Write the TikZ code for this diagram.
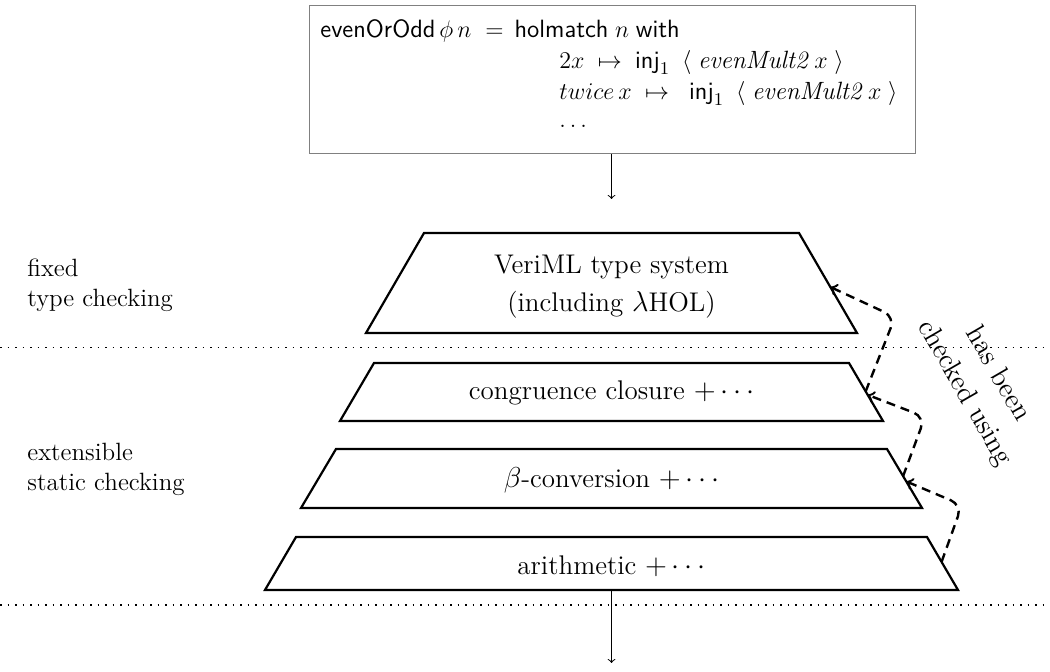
\documentclass[tikz,border=0pt]{standalone}
\usepackage{fontspec}
\usetikzlibrary{calc}
\begin{document}
\begin{tikzpicture}[x=0.5pt,y=-0.5pt,
  layer/.style={draw, line width=1.1pt, line join=miter},
  lbl/.style={font=\fontsize{13.5}{19}\selectfont, align=center, inner sep=0pt},
  side/.style={font=\fontsize{12.5}{15}\selectfont, align=left, inner sep=0pt, anchor=west},
  codeln/.style={font=\fontsize{12.5}{15}\selectfont, inner sep=0pt, anchor=base west},
  flow/.style={->, line width=0.5pt},
  sep/.style={line width=0.9pt, dash pattern=on 0.9pt off 2.85pt},
  check/.style={->, line width=1.2pt, dash pattern=on 4.5pt off 3pt, rounded corners=6pt},
]
\useasboundingbox (0,0) rectangle (1050,672);

% program being checked
\node[draw=black!50, line width=0.6pt, minimum width=303pt, minimum height=74pt,
      anchor=north west, inner sep=0pt] (code) at (309,5) {};
\node[codeln] (c1) at (320,37.5)
  {$\mathsf{evenOrOdd}\,\phi\,n\hspace{7pt}{=}\hspace{5.5pt}\mathsf{holmatch}\;n\;\mathsf{with}$};
\node[codeln] (c2) at (559,68.5)
  {$2x\;\mapsto\;\mathsf{inj}_1\hspace{6pt}\langle\;\textit{evenMult2}\;x\;\rangle$};
\node[codeln] (c3) at (559,99.5)
  {$twice\,x\;\mapsto\;\;\mathsf{inj}_1\hspace{6pt}\langle\;\textit{evenMult2}\;x\;\rangle$};
\node[codeln] (c4) at (559,128) {$\ldots$};

% layer corners
\coordinate (v-tl) at (424,233); \coordinate (v-tr) at (799,233);
\coordinate (v-br) at (857,333); \coordinate (v-bl) at (366,333);
\coordinate (c-tl) at (374,363); \coordinate (c-tr) at (849,363);
\coordinate (c-br) at (883,421); \coordinate (c-bl) at (340,421);
\coordinate (b-tl) at (336,449); \coordinate (b-tr) at (887,449);
\coordinate (b-br) at (922,508); \coordinate (b-bl) at (301,508);
\coordinate (a-tl) at (296,537); \coordinate (a-tr) at (927,537);
\coordinate (a-br) at (958,590); \coordinate (a-bl) at (265,590);

\draw[layer] (v-tl) -- (v-tr) -- (v-br) -- (v-bl) -- cycle;
\draw[layer] (c-tl) -- (c-tr) -- (c-br) -- (c-bl) -- cycle;
\draw[layer] (b-tl) -- (b-tr) -- (b-br) -- (b-bl) -- cycle;
\draw[layer] (a-tl) -- (a-tr) -- (a-br) -- (a-bl) -- cycle;

\node[lbl] (vml) at (611.5,287) {VeriML type system\\(including $\lambda$HOL)};
\node[lbl] (cc) at (611.5,393) {congruence closure $+\cdots$};
\node[lbl] (beta) at (611.5,480) {$\beta$-conversion $+\cdots$};
\node[lbl] (arith) at (611.5,566) {arithmetic $+\cdots$};

% separators
\coordinate (s1w) at (0,347.5); \coordinate (s1e) at (1050,347.5);
\coordinate (s2w) at (0,605);   \coordinate (s2e) at (1050,605);
\draw[sep] (s1w) -- (s1e);
\draw[sep] (s2w) -- (s2e);

% side labels
\node[side] (fixed) at (27,285) {fixed\\type checking};
\node[side] (ext) at (27,469) {extensible\\static checking};

% flow in and out
\coordinate (entry) at (611.5,199);
\draw[flow] (entry |- code.south) -- (entry);
\coordinate (a-bm) at ($(a-bl)!0.5!(a-br)$);
\coordinate (exit) at (611.5,663);
\draw[flow] (a-bm) -- (exit);

% checked-using arrows
\coordinate (a-out) at ($(a-tr)!0.47!(a-br)$);
\coordinate (b-in)  at ($(b-tr)!0.55!(b-br)$);
\coordinate (b-out) at ($(b-tr)!0.46!(b-br)$);
\coordinate (c-in)  at ($(c-tr)!0.55!(c-br)$);
\coordinate (c-out) at ($(c-tr)!0.49!(c-br)$);
\coordinate (v-in)  at ($(v-tr)!0.54!(v-br)$);
\coordinate (k1) at (962,505);
\coordinate (k2) at (925,417);
\coordinate (k3) at (895,317);
\draw[check] (a-out) -- (k1) -- (b-in);
\draw[check] (b-out) -- (k2) -- (c-in);
\draw[check] (c-out) -- (k3) -- (v-in);

\node[rotate=-60, align=center, font=\fontsize{14}{19}\selectfont, inner sep=0pt]
  (note) at (981,384) {has been\\checked using};
\end{tikzpicture}
\end{document}
